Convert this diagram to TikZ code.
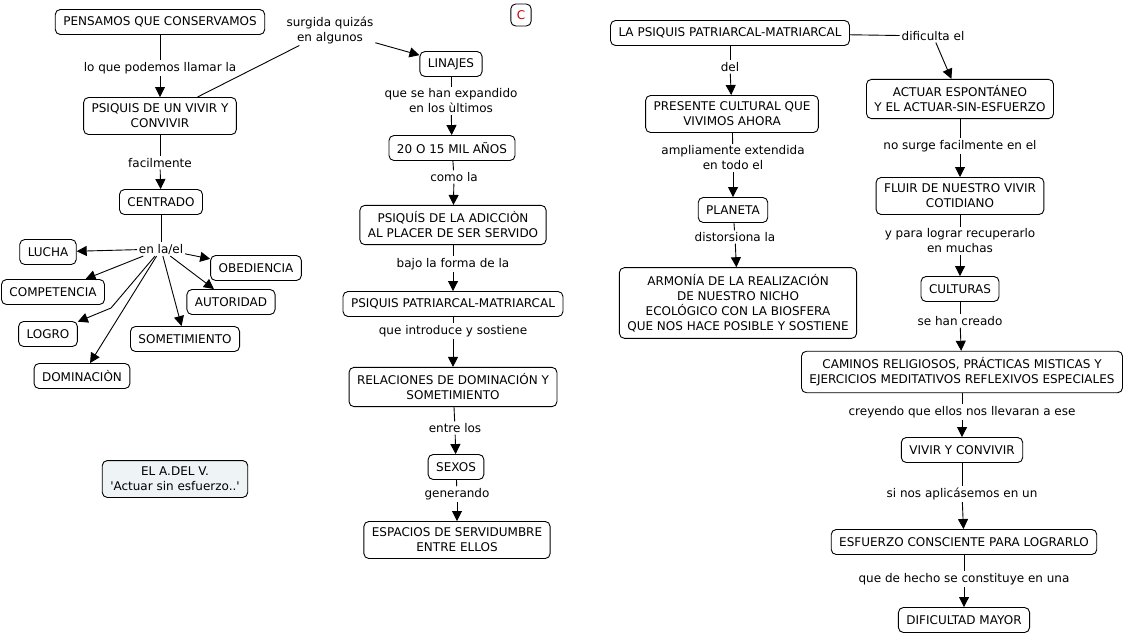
\documentclass[tikz,border=0pt]{standalone}
\usepackage{fontspec}
\setmainfont{DejaVu Sans}
\usetikzlibrary{arrows.meta,positioning}
\begin{document}
\begin{tikzpicture}[x=1pt,y=-1pt,line width=0.9pt,
conceptstyle/.style={draw,fill=white,rounded corners=5pt,align=center,inner xsep=8pt,inner ysep=6.5pt,minimum height=25pt,font=\fontsize{12}{15}\selectfont},
phrasestyle/.style={align=center,inner sep=1.5pt,font=\fontsize{12}{15}\selectfont},
arrowstyle/.style={-{Triangle[length=10pt,width=10pt]}}]
\useasboundingbox (0,0) rectangle (1134,635);
\node[conceptstyle] (pensamos) at (160,22) {PENSAMOS QUE CONSERVAMOS};
\node[phrasestyle] (llamar) at (160,68) {lo que podemos llamar la};
\node[conceptstyle] (vivir1) at (160,116) {PSIQUIS DE UN VIVIR Y\\CONVIVIR};
\node[phrasestyle] (facil) at (160,163) {facilmente};
\node[conceptstyle] (centrado) at (161,202) {CENTRADO};
\node[phrasestyle] (enla) at (161,249) {en la/el};
\node[conceptstyle] (lucha) at (48,252) {LUCHA};
\node[conceptstyle] (competencia) at (53,292) {COMPETENCIA};
\node[conceptstyle] (logro) at (48,334) {LOGRO};
\node[conceptstyle] (dominacion) at (82,376) {DOMINACIÒN};
\node[conceptstyle] (sometimiento) at (185,339) {SOMETIMIENTO};
\node[conceptstyle] (autoridad) at (231,302) {AUTORIDAD};
\node[conceptstyle] (obediencia) at (256,268) {OBEDIENCIA};
\coordinate (quiebre) at (111,308);
\node[conceptstyle,fill={rgb,255:red,238;green,243;blue,246}] (elav) at (175,479) {EL A.DEL V.\\\textquotesingle Actuar sin esfuerzo..\textquotesingle};
\node[phrasestyle] (surgida) at (330,30) {surgida quizás\\en algunos};
\node[conceptstyle] (linajes) at (451,64) {LINAJES};
\node[phrasestyle] (expandido) at (451,101) {que se han expandido\\en los ùltimos};
\node[conceptstyle] (anos) at (452,148) {20 O 15 MIL AÑOS};
\node[phrasestyle] (como) at (454,177) {como la};
\node[conceptstyle] (adiccion) at (453,225) {PSIQUÍS DE LA ADICCIÒN\\AL PLACER DE SER SERVIDO};
\node[phrasestyle] (forma) at (453,264) {bajo la forma de la};
\node[conceptstyle] (patriarcal) at (453,304) {PSIQUIS PATRIARCAL-MATRIARCAL};
\node[phrasestyle] (introduce) at (453,331) {que introduce y sostiene};
\node[conceptstyle] (relaciones) at (453,387) {RELACIONES DE DOMINACIÓN Y\\SOMETIMIENTO};
\node[phrasestyle] (entre) at (455,428) {entre los};
\node[conceptstyle] (sexos) at (456,467) {SEXOS};
\node[phrasestyle] (generando) at (457,494) {generando};
\node[conceptstyle] (espacios) at (457,540) {ESPACIOS DE SERVIDUMBRE\\ENTRE ELLOS};
\node[conceptstyle,text={rgb,255:red,200;green,0;blue,0},inner xsep=6pt,minimum height=22pt] (c) at (521,15) {C};
\node[conceptstyle] (lapsiquis) at (730,33) {LA PSIQUIS PATRIARCAL-MATRIARCAL};
\node[phrasestyle] (del) at (730,67) {del};
\node[conceptstyle] (presente) at (732,114) {PRESENTE CULTURAL QUE\\VIVIMOS AHORA};
\node[phrasestyle] (ampliamente) at (733,158) {ampliamente extendida\\en todo el};
\node[conceptstyle] (planeta) at (733,210) {PLANETA};
\node[phrasestyle] (distorsiona) at (735,237) {distorsiona la};
\node[conceptstyle] (armonia) at (738,303) {ARMONÍA DE LA REALIZACIÓN\\DE NUESTRO NICHO\\ECOLÓGICO CON LA BIOSFERA\\QUE NOS HACE POSIBLE Y SOSTIENE};
\node[phrasestyle] (dificulta) at (933,36) {dificulta el};
\node[conceptstyle] (actuar) at (960,99) {ACTUAR ESPONTÁNEO\\Y EL ACTUAR-SIN-ESFUERZO};
\node[phrasestyle] (nosurge) at (960,146) {no surge facilmente en el};
\node[conceptstyle] (fluir) at (960,196) {FLUIR DE NUESTRO VIVIR\\COTIDIANO};
\node[phrasestyle] (lograr) at (960,241) {y para lograr recuperarlo\\en muchas};
\node[conceptstyle] (culturas) at (960,289) {CULTURAS};
\node[phrasestyle] (creado) at (960,321) {se han creado};
\node[conceptstyle] (caminos) at (962,372) {CAMINOS RELIGIOSOS, PRÁCTICAS MISTICAS Y\\EJERCICIOS MEDITATIVOS REFLEXIVOS ESPECIALES};
\node[phrasestyle] (creyendo) at (962,412) {creyendo que ellos nos llevaran a ese};
\node[conceptstyle] (vivir2) at (962,450) {VIVIR Y CONVIVIR};
\node[phrasestyle] (aplicasemos) at (962,494) {si nos aplicásemos en un};
\node[conceptstyle] (esfuerzo) at (964,542) {ESFUERZO CONSCIENTE PARA LOGRARLO};
\node[phrasestyle] (hecho) at (964,579) {que de hecho se constituye en una};
\node[conceptstyle] (dificultad) at (964,620) {DIFICULTAD MAYOR};
\draw (pensamos) -- (llamar);
\draw[arrowstyle] (llamar) -- (vivir1);
\draw (vivir1) -- (facil);
\draw[arrowstyle] (facil) -- (centrado);
\draw (centrado) -- (enla);
\draw[arrowstyle] (enla) -- (lucha);
\draw[arrowstyle] (enla) -- (competencia);
\draw[arrowstyle] (enla) -- (quiebre) -- (logro);
\draw[arrowstyle] (enla) -- (dominacion);
\draw[arrowstyle] (enla) -- (sometimiento);
\draw[arrowstyle] (enla) -- (autoridad);
\draw[arrowstyle] (enla) -- (obediencia);
\draw (vivir1) -- (surgida);
\draw[arrowstyle] (surgida) -- (linajes);
\draw (linajes) -- (expandido);
\draw[arrowstyle] (expandido) -- (anos);
\draw (anos) -- (como);
\draw[arrowstyle] (como) -- (adiccion);
\draw (adiccion) -- (forma);
\draw[arrowstyle] (forma) -- (patriarcal);
\draw (patriarcal) -- (introduce);
\draw[arrowstyle] (introduce) -- (relaciones);
\draw (relaciones) -- (entre);
\draw[arrowstyle] (entre) -- (sexos);
\draw (sexos) -- (generando);
\draw[arrowstyle] (generando) -- (espacios);
\draw (lapsiquis) -- (del);
\draw[arrowstyle] (del) -- (presente);
\draw (presente) -- (ampliamente);
\draw[arrowstyle] (ampliamente) -- (planeta);
\draw (planeta) -- (distorsiona);
\draw[arrowstyle] (distorsiona) -- (armonia);
\draw (lapsiquis) -- (dificulta);
\draw[arrowstyle] (dificulta) -- (actuar);
\draw (actuar) -- (nosurge);
\draw[arrowstyle] (nosurge) -- (fluir);
\draw (fluir) -- (lograr);
\draw[arrowstyle] (lograr) -- (culturas);
\draw (culturas) -- (creado);
\draw[arrowstyle] (creado) -- (caminos);
\draw (caminos) -- (creyendo);
\draw[arrowstyle] (creyendo) -- (vivir2);
\draw (vivir2) -- (aplicasemos);
\draw[arrowstyle] (aplicasemos) -- (esfuerzo);
\draw (esfuerzo) -- (hecho);
\draw[arrowstyle] (hecho) -- (dificultad);
\end{tikzpicture}
\end{document}
